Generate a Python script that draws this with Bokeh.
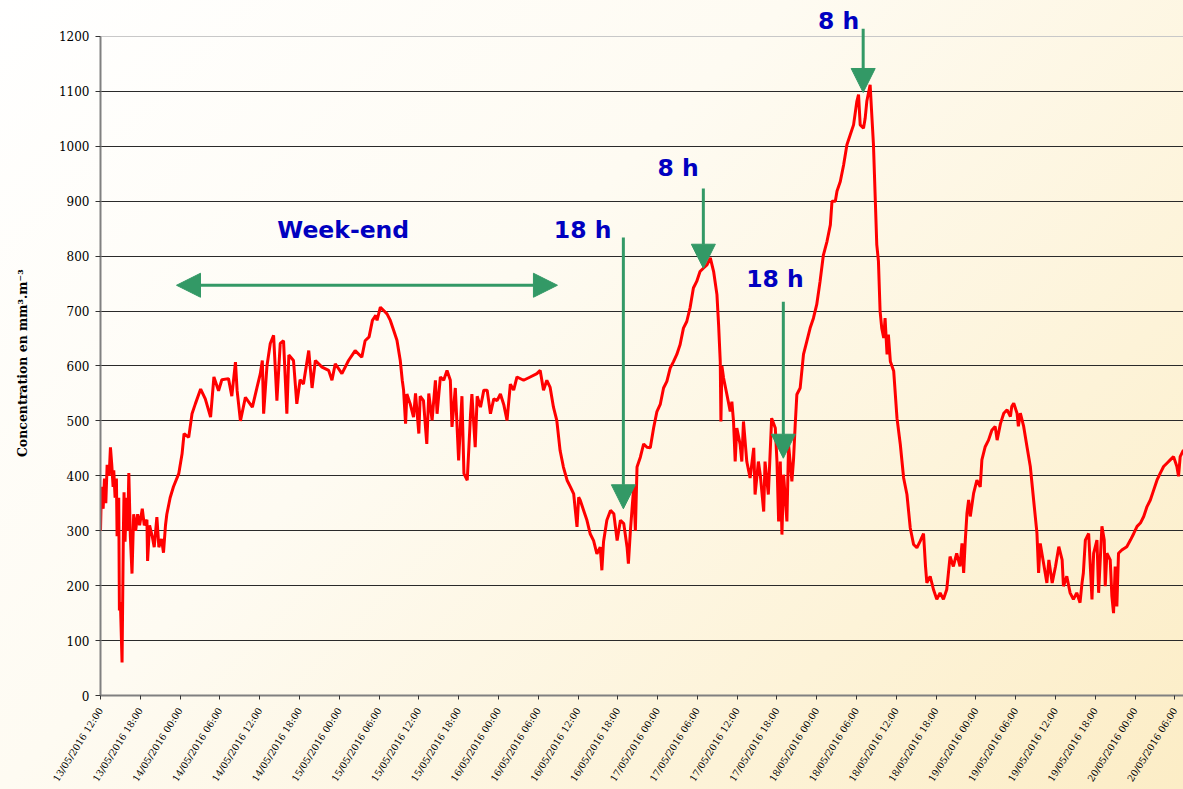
from bokeh.plotting import figure
from bokeh.models import FixedTicker, Arrow, NormalHead, Label, Grid
from bokeh.embed import file_html
from bokeh.resources import INLINE

# Hours elapsed since 13/05/2016 12:00
hours = [
    0.0, 0.15, 0.4, 0.6, 0.8, 1.0, 1.3, 1.5, 1.7, 1.9, 2.0, 2.2, 2.4, 2.5, 2.75, 2.85, 3.0, 3.25, 3.45, 3.55,
    3.7, 3.9, 4.1, 4.27, 4.5, 4.75, 5.0, 5.3, 5.6, 5.9, 6.3, 6.6, 7.0, 7.1, 7.4, 7.8, 8.1, 8.5, 8.8, 9.2,
    9.5, 9.8, 10.0, 10.5, 11.0, 11.8, 12.3, 12.6, 13.3, 13.8, 14.3, 15.1, 15.8, 16.6, 17.1, 17.8, 18.3, 19.3, 19.8, 20.35,
    20.6, 21.1, 21.85, 22.9, 23.6, 24.1, 24.4, 24.6, 25.1, 25.6, 26.1, 26.6, 27.1, 27.6, 28.1, 28.4, 29.1, 29.6, 30.1, 30.6,
    31.4, 31.9, 32.4, 33.4, 34.4, 34.9, 35.4, 36.4, 37.4, 38.4, 39.4, 39.9, 40.5, 41.0, 41.5,
    41.7, 42.2, 42.7, 43.2, 43.7, 44.2, 44.7, 45.2, 45.5, 45.7, 46.0, 46.2, 46.7, 47.2, 47.5, 48.0, 48.2, 48.7, 49.0, 49.2,
    49.5, 50.0, 50.5, 50.75, 51.25, 51.75, 52.25, 52.75, 53.0, 53.5, 54.0, 54.5, 54.8, 55.3, 55.8, 56.0, 56.5, 56.8, 57.3, 57.8,
    58.3, 58.8, 59.3, 59.8, 60.3, 60.8, 61.3, 61.8, 62.3, 62.8, 63.8, 64.8, 65.8, 66.3, 66.8, 67.3, 67.8, 68.3, 68.8, 69.3,
    69.8, 70.35, 70.85, 71.35, 71.85, 72.1, 72.35, 72.85, 73.35, 73.85, 74.35, 74.85, 75.35, 75.6, 75.85, 76.35, 76.9, 77.4, 77.9, 78.4,
    78.9, 79.4, 79.6, 79.9, 80.4, 80.65, 80.9, 81.4, 81.9, 82.4,
    82.9, 83.4, 83.9, 84.4, 84.9, 85.4, 85.9, 86.4, 86.9, 87.4, 87.9, 88.4, 88.9, 89.4, 89.9, 90.4, 90.9, 91.45, 91.95, 92.45,
    92.95, 93.2, 93.45, 93.55, 93.7, 93.95, 94.45, 94.95, 95.2, 95.45, 95.7, 95.95, 96.45, 96.7, 96.95, 97.45, 97.95, 98.5, 98.7, 99.2,
    99.5, 100.0, 100.2, 100.7, 101.2, 101.75, 102.0, 102.25, 102.5, 102.75, 103.0, 103.5, 103.75, 104.25, 104.5, 104.75, 105.0, 105.5, 106.0, 106.5,
    107.0, 107.5, 108.0, 108.5, 109.0, 109.55, 110.05, 110.3, 110.8, 111.05, 111.55, 112.05, 112.55, 113.05, 113.55, 114.05, 114.3, 114.55, 115.05, 115.3,
    115.55, 116.05, 116.3, 116.55, 116.8, 117.05, 117.3, 117.55, 117.8, 118.1, 118.3, 118.6, 118.8, 119.1, 119.6, 120.1, 120.6, 121.1, 121.6, 122.1,
    122.6, 123.1, 123.6,
    124.1, 124.4, 124.6, 125.1, 125.6, 126.1, 126.6, 127.1, 127.6, 128.1, 128.6, 129.1, 129.6, 129.9, 130.15, 130.4, 130.65, 130.9, 131.15, 131.65,
    132.15, 132.65, 132.9, 133.4, 133.9, 134.4, 134.9, 135.2, 135.7, 136.2, 136.7, 137.2, 137.4, 137.7, 138.2, 138.4, 138.7, 139.2, 139.7, 140.2,
    140.7, 141.2, 141.45, 141.7, 142.2, 142.7, 143.0, 143.5, 144.0, 144.5, 145.0, 145.2, 145.7, 146.2, 146.7, 147.2, 147.7, 148.0, 148.2, 148.5,
    149.0, 149.2, 149.5, 149.75, 150.25, 150.5, 151.0, 151.35, 151.5, 151.75, 152.25, 152.5, 152.75, 153.0, 153.25, 153.5, 154.0, 154.75, 155.3, 155.8,
    156.3, 156.8, 157.3, 157.8, 158.3, 158.8, 159.3, 159.8, 160.3, 160.8, 161.3, 161.8, 162.3, 162.55, 162.8, 163.3,
]

# Concentration (mm3.m-3)
conc = [
    300, 380, 340, 395, 350, 420, 400, 452, 420, 380, 410, 360, 395, 290, 360, 155, 170, 60, 300, 370,
    280, 360, 300, 405, 290, 222, 330, 300, 330, 310, 340, 310, 320, 245, 310, 290, 270, 325, 270, 285,
    260, 310, 330, 360, 380, 404, 440, 477, 470, 513, 531, 558, 540, 507, 580, 555, 575, 577, 545, 607,
    555, 500, 543, 525, 561, 586, 610, 513, 600, 641, 656, 537, 641, 646, 513, 620, 610, 531, 575, 567,
    628, 560, 610, 598, 592, 574, 604, 586, 610, 628, 616, 646, 653, 683, 692,
    683, 707, 701, 695, 683, 665, 647, 610, 574, 556, 495, 549, 531, 507, 550, 477, 545, 537, 489, 458,
    550, 501, 574, 513, 580, 574, 592, 574, 489, 560, 428, 545, 404, 392, 513, 549, 452, 545, 525, 556,
    556, 513, 540, 537, 549, 530, 501, 567, 556, 580, 574, 580, 586, 592, 556, 574, 561, 525, 501, 446,
    416, 392, 380, 367, 307, 361, 355, 337, 319, 294, 282, 258, 270, 228, 280, 319, 337, 331, 282, 319,
    313, 270, 240, 300, 380, 300, 416, 434, 458, 452,
    451, 487, 517, 530, 560, 572, 596, 608, 621, 639, 669, 681, 706, 742, 754, 772, 778, 784, 797, 772,
    730, 675, 608, 499, 600, 578, 548, 517, 535, 499, 426, 487, 457, 426, 499, 426, 396, 451, 366, 426,
    400, 335, 426, 366, 505, 487, 426, 317, 426, 293, 402, 317, 457, 390, 430, 493, 548, 560, 621, 645,
    669, 687, 712, 754, 802, 827, 857, 900, 900, 918, 936, 966, 1003, 1021, 1039, 1082, 1094, 1039, 1033, 1051,
    1082, 1112, 1057, 1003, 912, 821, 791, 700, 669, 651, 687, 621, 657, 608, 591, 505, 457, 396, 366, 305,
    275, 269, 281,
    295, 235, 205, 217, 193, 175, 187, 175, 193, 253, 235, 259, 235, 277, 223, 283, 332, 356, 326, 368,
    392, 380, 429, 453, 465, 483, 490, 465, 495, 514, 520, 508, 526, 532, 514, 490, 514, 490, 453, 417,
    356, 296, 223, 277, 241, 205, 247, 205, 235, 271, 247, 199, 217, 187, 175, 187, 169, 205, 223, 283,
    295, 247, 175, 259, 283, 187, 308, 283, 199, 259, 247, 181, 150, 235, 162, 259, 265, 271, 283, 295,
    308, 314, 326, 344, 356, 374, 392, 405, 417, 423, 429, 435, 417, 399, 435, 447,
]

tick_hours = [0, 6, 12, 18, 24, 30, 36, 42, 48, 54, 60, 66, 72, 78, 84, 90, 96, 102, 108, 114, 120, 126, 132, 138, 144, 150, 156, 162]
tick_labels = [
    "13/05/2016 12:00", "13/05/2016 18:00", "14/05/2016 00:00", "14/05/2016 06:00", "14/05/2016 12:00",
    "14/05/2016 18:00", "15/05/2016 00:00", "15/05/2016 06:00", "15/05/2016 12:00", "15/05/2016 18:00",
    "16/05/2016 00:00", "16/05/2016 06:00", "16/05/2016 12:00", "16/05/2016 18:00", "17/05/2016 00:00",
    "17/05/2016 06:00", "17/05/2016 12:00", "17/05/2016 18:00", "18/05/2016 00:00", "18/05/2016 06:00",
    "18/05/2016 12:00", "18/05/2016 18:00", "19/05/2016 00:00", "19/05/2016 06:00", "19/05/2016 12:00",
    "19/05/2016 18:00", "20/05/2016 00:00", "20/05/2016 06:00",
]
y_ticks = [0, 100, 200, 300, 400, 500, 600, 700, 800, 900, 1000, 1100, 1200]

p = figure(width=1183, height=789, x_range=(0, 163.3), y_range=(0, 1265.5),
           output_backend="svg", toolbar_location=None,
           min_border_left=100, min_border_right=0, min_border_top=0, min_border_bottom=94)
p.border_fill_alpha = 0
p.background_fill_alpha = 0
p.outline_line_color = None
p.styles = {"background": "linear-gradient(135deg, #ffffff 0%, #fefbf2 40%, #fdf3d8 75%, #fcedc6 100%)"}

p.xgrid.grid_line_color = None
p.ygrid.ticker = FixedTicker(ticks=y_ticks[:-1])
p.ygrid.grid_line_color = "#2a2a2a"
p.ygrid.grid_line_width = 1
p.add_layout(Grid(dimension=1, ticker=FixedTicker(ticks=y_ticks[-1:]),
                  grid_line_color="#c8c8c8", grid_line_width=1))

p.yaxis.ticker = FixedTicker(ticks=y_ticks)
p.yaxis.bounds = (0, 1200)
p.yaxis.axis_line_color = "#808080"
p.yaxis.axis_line_width = 2
p.yaxis.major_tick_line_color = "#333333"
p.yaxis.major_tick_out = 5
p.yaxis.major_tick_in = 0
p.yaxis.minor_tick_line_color = None
p.yaxis.major_label_text_font = "DejaVu Serif"
p.yaxis.major_label_text_font_size = "12px"
p.yaxis.major_label_text_color = "#000000"
p.yaxis.major_label_standoff = 6
p.yaxis.axis_label = "Concentration en mm³.m⁻³" + "\u00a0" * 7
p.yaxis.axis_label_text_font = "DejaVu Serif"
p.yaxis.axis_label_text_font_size = "12.5px"
p.yaxis.axis_label_text_font_style = "bold"
p.yaxis.axis_label_text_color = "#000000"
p.yaxis.axis_label_standoff = 26

p.xaxis.ticker = FixedTicker(ticks=tick_hours)
p.xaxis.major_label_overrides = {h: lab for h, lab in zip(tick_hours, tick_labels)}
p.xaxis.major_label_orientation = 1.01
p.xaxis.axis_line_color = "#808080"
p.xaxis.axis_line_width = 2
p.xaxis.major_tick_line_color = "#333333"
p.xaxis.major_tick_out = 4
p.xaxis.major_tick_in = 0
p.xaxis.minor_tick_line_color = None
p.xaxis.major_label_text_font = "DejaVu Serif"
p.xaxis.major_label_text_font_size = "9.5px"
p.xaxis.major_label_text_color = "#000000"
p.xaxis.major_label_standoff = 9

p.line(hours, conc, line_color="#ff0000", line_width=3)

green = "#339966"
blue = "#0000c0"

p.add_layout(Arrow(x_start=11.46, y_start=747, x_end=68.9, y_end=747,
                   start=NormalHead(size=24, fill_color=green, line_color=green),
                   end=NormalHead(size=24, fill_color=green, line_color=green),
                   line_color=green, line_width=3))

for xa, ys, ye in [(78.84, 834, 340), (90.9, 923, 778), (102.96, 717, 432), (115.0, 1214, 1098)]:
    p.add_layout(Arrow(x_start=xa, y_start=ys, x_end=xa, y_end=ye,
                       end=NormalHead(size=24, fill_color=green, line_color=green),
                       line_color=green, line_width=3))

for txt, xt, yt in [("Week-end", 36.6, 847), ("18 h", 72.7, 847), ("8 h", 87.1, 961),
                    ("18 h", 101.7, 759), ("8 h", 111.3, 1229)]:
    p.add_layout(Label(x=xt, y=yt, text=txt, text_align="center", text_baseline="middle",
                       text_font="DejaVu Sans", text_font_style="bold",
                       text_font_size="23.5px", text_color=blue))

open("out.html", "w").write(file_html(p, INLINE))
